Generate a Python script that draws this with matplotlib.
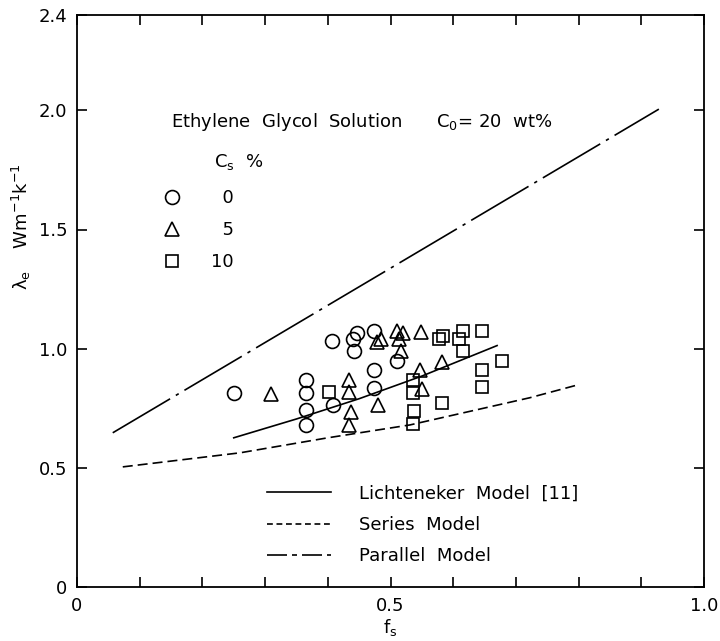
import matplotlib
matplotlib.use("Agg")
import matplotlib.pyplot as plt
from matplotlib.lines import Line2D
import numpy as np

plt.rcParams['font.family'] = ['DejaVu Sans']
plt.rcParams['mathtext.default'] = 'regular'

# --- data ---
circ_f = [0.250, 0.407, 0.447, 0.440, 0.442, 0.474, 0.510, 0.474, 0.474, 0.365, 0.365, 0.365, 0.365, 0.408]
circ_l = [0.815, 1.034, 1.067, 1.040, 0.990, 1.076, 0.950, 0.910, 0.836, 0.870, 0.815, 0.744, 0.680, 0.765]

tri_f = [0.309, 0.434, 0.434, 0.437, 0.434, 0.480, 0.478, 0.485, 0.510, 0.520, 0.514, 0.517, 0.549, 0.582, 0.547, 0.550]
tri_l = [0.810, 0.870, 0.820, 0.735, 0.680, 0.765, 1.030, 1.040, 1.076, 1.067, 1.040, 0.990, 1.070, 0.945, 0.910, 0.830]

sq_f = [0.402, 0.536, 0.536, 0.538, 0.536, 0.582, 0.577, 0.584, 0.616, 0.609, 0.616, 0.646, 0.646, 0.646, 0.678]
sq_l = [0.820, 0.870, 0.815, 0.740, 0.685, 0.770, 1.040, 1.055, 1.076, 1.040, 0.990, 1.076, 0.910, 0.840, 0.950]

lich_f = [0.25, 0.35, 0.45, 0.55, 0.67]
lich_l = [0.626, 0.705, 0.790, 0.885, 1.013]

series_f = [0.073, 0.26, 0.40, 0.531, 0.722, 0.80]
series_l = [0.504, 0.563, 0.626, 0.680, 0.794, 0.849]

par_f = [0.057, 0.928]
par_l = [0.647, 2.005]

cs_labels = ['\u20070', '\u20075', '10']
model_labels = ['Lichteneker  Model  [11]', 'Series  Model', 'Parallel  Model']

xtick_vals = [0, 0.5, 1.0]
xtick_labels = ['0', '0.5', '1.0']
ytick_vals = [0, 0.5, 1.0, 1.5, 2.0, 2.4]
ytick_labels = ['0', '0.5', '1.0', '1.5', '2.0', '2.4']

# --- figure ---
fig = plt.figure(figsize=(7.2, 6.41), dpi=100)
ax = fig.add_axes([77/720, 1-587/641, (704-77)/720, (587-15)/641])
ax.set_xlim(0, 1.0)
ax.set_ylim(0, 2.4)

mk = dict(linestyle='none', markerfacecolor='none', markeredgecolor='black', markeredgewidth=1.2)
ax.plot(circ_f, circ_l, marker='o', markersize=10, **mk)
ax.plot(tri_f, tri_l, marker='^', markersize=9.5, **mk)
ax.plot(sq_f, sq_l, marker='s', markersize=8, **mk)

ax.plot(lich_f, lich_l, color='black', lw=1.2, linestyle='-')
ax.plot(series_f, series_l, color='black', lw=1.2, linestyle=(0, (6, 3)))
ax.plot(par_f, par_l, color='black', lw=1.2, linestyle=(0, (40, 4, 2, 4)))

# marker legend
mh = [Line2D([], [], marker='o', markersize=10, **mk),
      Line2D([], [], marker='^', markersize=9.5, **mk),
      Line2D([], [], marker='s', markersize=8, **mk)]
leg1 = ax.legend(mh, cs_labels, loc='upper left',
                 bbox_to_anchor=(0.126, 0.708), frameon=False, fontsize=13,
                 handlelength=1.0, handletextpad=1.65,
                 labelspacing=0.78, borderaxespad=0)
ax.add_artist(leg1)
ax.text(0.218, 1.785, 'C$_s$  %', fontsize=13, va='center', ha='left')

lh = [Line2D([], [], color='black', lw=1.2, linestyle='-'),
      Line2D([], [], color='black', lw=1.2, linestyle=(0, (3.5, 2.2))),
      Line2D([], [], color='black', lw=1.2, linestyle=(0, (12, 3, 3, 3)))]
ax.legend(lh, model_labels, loc='lower left', bbox_to_anchor=(0.292, 0.025),
          frameon=False, fontsize=13, handlelength=3.5, handletextpad=1.6,
          labelspacing=0.75, borderaxespad=0)

ax.text(0.15, 1.95, 'Ethylene  Glycol  Solution      C$_0$= 20  wt%', fontsize=13,
        va='center', ha='left')

ax.set_xticks(xtick_vals)
ax.set_xticklabels(xtick_labels)
ax.set_xticks(np.arange(0.1, 1.0, 0.1), minor=True)
ax.set_yticks(ytick_vals)
ax.set_yticklabels(ytick_labels)
ax.tick_params(which='both', direction='in', top=True, right=True, length=7, width=1.2,
               labelsize=13, pad=7)
for s in ax.spines.values():
    s.set_linewidth(1.3)

ax.set_xlabel('f$_s$', fontsize=13, labelpad=2)
ax.set_ylabel('λ$_e$    Wm$^{-1}$k$^{-1}$', fontsize=13)
ax.yaxis.set_label_coords(-0.07, 0.63)

fig.savefig('out.png', dpi=100)
